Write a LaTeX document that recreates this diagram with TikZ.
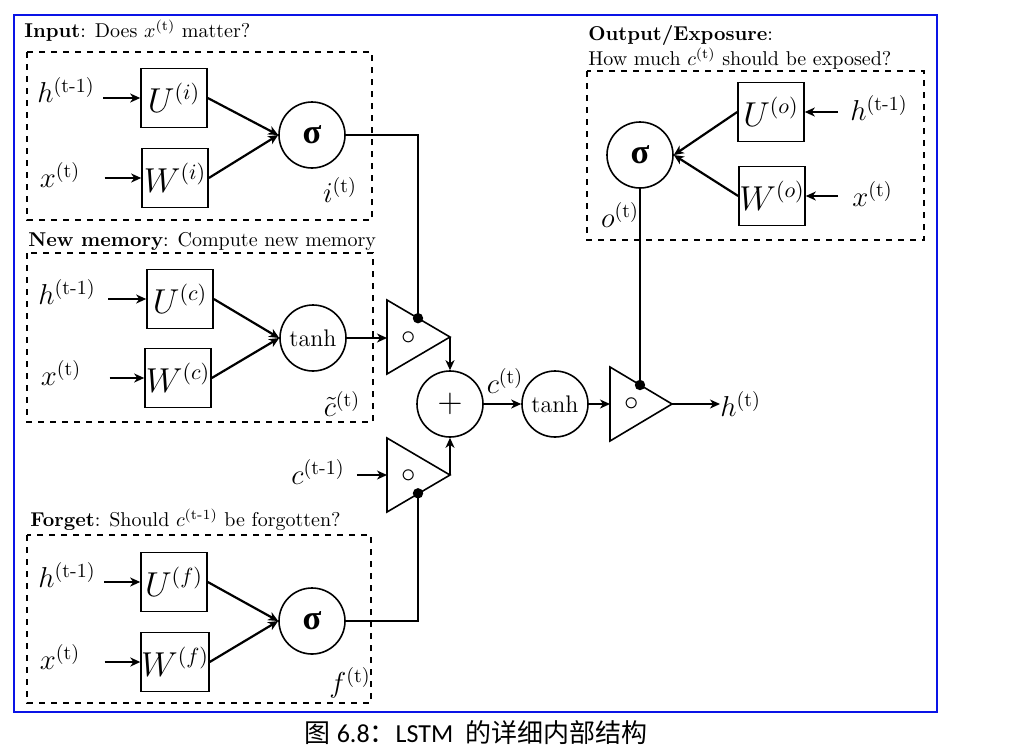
\documentclass[tikz,border=0pt]{standalone}
\usepackage{amsmath}
\usepackage{fontspec}
\newfontfamily\cjkfont{Noto Sans CJK SC}
\newfontfamily\capfont{Carlito}
\newfontfamily\sigfont{Liberation Serif}
\usetikzlibrary{arrows.meta, positioning, calc}
\definecolor{frameblue}{HTML}{0A14E6}

\newcommand{\sgm}{{\sigfont\bfseries σ}}

\tikzset{
    wbox/.style={draw, line width=0.8pt, minimum width=33pt, minimum height=29.5pt, inner sep=0pt, font=\fontsize{16}{18}\selectfont},
    actnode/.style={draw, circle, line width=0.8pt, minimum size=33pt, inner sep=0pt},
    lbl/.style={font=\Large, inner sep=0pt},
    gatebox/.style={draw, dashed, line width=0.7pt},
    hdr/.style={anchor=west, inner sep=0pt, font=\normalsize},
    flow/.style={line width=1.1pt, -{Stealth[length=5pt, width=4.5pt, inset=1.5pt]}},
    wire/.style={line width=1.1pt},
    gatetri/.style={draw, line width=0.8pt, line join=miter},
}

\begin{document}
\begin{tikzpicture}[x=0.5pt, y=-0.5pt]
    \useasboundingbox (0,0) rectangle (1009,752);
    \draw[frameblue, line width=1pt] (14,15) rectangle (937,712);

    % Input
    \node[hdr] (inhdr) at (24,31) {\textbf{Input}: Does $x^{(\text{t})}$ matter?};
    \draw[gatebox] (27,52) rectangle (372,220);
    \node[wbox] (ui) at (174,98) {$U^{(i)}$};
    \node[wbox] (wi) at (175,178) {$W^{(i)}$};
    \node[actnode, font=\LARGE] (si) at (312,135) {\sgm};
    \node[lbl] (hi) at (66,90) {$h^{(\text{t-1})}$};
    \node[lbl] (xi) at (60,175) {$x^{(\text{t})}$};
    \node[lbl] (it) at (340,190) {$i^{(\text{t})}$};
    \draw[flow, shorten <=4pt] (hi.east |- ui.west) -- (ui.west);
    \draw[flow, shorten <=12pt] (xi.east |- wi.west) -- (wi.west);
    \draw[flow] (ui.east) -- (si.west);
    \draw[flow] (wi.east) -- (si.west);

    % New memory
    \node[hdr] (nmhdr) at (28,241) {\textbf{New memory}: Compute new memory};
    \draw[gatebox] (27,253) rectangle (373,422);
    \node[wbox] (uc) at (180,299) {$U^{(c)}$};
    \node[wbox] (wc) at (178,378) {$W^{(c)}$};
    \node[actnode, font=\large] (tc) at (313,338) {tanh};
    \node[lbl] (hc) at (67,292) {$h^{(\text{t-1})}$};
    \node[lbl] (xc) at (61,373) {$x^{(\text{t})}$};
    \node[lbl] (ct) at (342,404) {$\tilde{c}^{(\text{t})}$};
    \draw[flow, shorten <=6pt] (hc.east |- uc.west) -- (uc.west);
    \draw[flow, shorten <=14pt] (xc.east |- wc.west) -- (wc.west);
    \draw[flow] (uc.east) -- (tc.west);
    \draw[flow] (wc.east) -- (tc.west);

    % Forget
    \node[hdr] (fghdr) at (30,520) {\textbf{Forget}: Should $c^{(\text{t-1})}$ be forgotten?};
    \draw[gatebox] (27,535) rectangle (371,703);
    \node[wbox] (uf) at (174,582) {$U^{(f)}$};
    \node[wbox] (wf) at (175,662) {$W^{(f)}$};
    \node[actnode, font=\LARGE] (sf) at (312,621) {\sgm};
    \node[lbl] (hf) at (67,575) {$h^{(\text{t-1})}$};
    \node[lbl] (xf) at (60,657) {$x^{(\text{t})}$};
    \node[lbl] (ft) at (350,683) {$f^{(\text{t})}$};
    \draw[flow, shorten <=4pt] (hf.east |- uf.west) -- (uf.west);
    \draw[flow, shorten <=12pt] (xf.east |- wf.west) -- (wf.west);
    \draw[flow] (uf.east) -- (sf.west);
    \draw[flow] (wf.east) -- (sf.west);

    % Output / Exposure
    \node[hdr] (ouhdr) at (588,35) {\textbf{Output/Exposure}:};
    \node[hdr] (ouhdr2) at (588,59) {How much $c^{(\text{t})}$ should be exposed?};
    \draw[gatebox] (587,71) rectangle (924,240);
    \node[wbox] (uo) at (771,112) {$U^{(o)}$};
    \node[wbox] (wo) at (772,196) {$W^{(o)}$};
    \node[actnode, font=\LARGE] (so) at (640,155) {\sgm};
    \node[lbl, anchor=west] (ho) at (850,108) {$h^{(\text{t-1})}$};
    \node[lbl, anchor=west] (xo) at (852,194) {$x^{(\text{t})}$};
    \node[lbl] (ot) at (620,215) {$o^{(\text{t})}$};
    \draw[flow, shorten <=6pt] (ho.west |- uo.east) -- (uo.east);
    \draw[flow, shorten <=7pt] (xo.west |- wo.east) -- (wo.east);
    \draw[flow] (uo.west) -- (so.east);
    \draw[flow] (wo.west) -- (so.east);

    % gates
    \coordinate (g1) at (387,337);
    \coordinate (g2) at (387,475);
    \coordinate (g3) at (610,404);
    \draw[gatetri] (g1) ++(0,-37) -- ++(63,37) coordinate (g1o) -- ++(-63,37) -- cycle;
    \draw[gatetri] (g2) ++(0,-37) -- ++(63,37) coordinate (g2o) -- ++(-63,37) -- cycle;
    \draw[gatetri] (g3) ++(0,-37) -- ++(62,37) coordinate (g3o) -- ++(-62,37) -- cycle;
    \node[font=\Large, inner sep=0pt] (m1) at (409,338) {$\circ$};
    \node[font=\Large, inner sep=0pt] (m2) at (409,476) {$\circ$};
    \node[font=\Large, inner sep=0pt] (m3) at (632,404) {$\circ$};
    \coordinate (d1) at (418,318.2);
    \coordinate (d2) at (418,493.3);
    \coordinate (d3) at (640,385);

    % cell
    \node[actnode, font=\LARGE] (plus) at (450,404) {$+$};
    \node[actnode, font=\large] (tcell) at (555,404) {tanh};
    \node[lbl] (cnow) at (505,381) {$c^{(\text{t})}$};
    \node[lbl] (cprev) at (318,472) {$c^{(\text{t-1})}$};
    \node[lbl, anchor=west] (hout) at (720,404) {$h^{(\text{t})}$};

    % connectors
    \draw[wire] (si.east) -| (d1);
    \draw[wire] (sf.east) -| (d2);
    \draw[wire] (so.south) -- (d3);
    \fill (d1) circle (2.6pt);
    \fill (d2) circle (2.6pt);
    \fill (d3) circle (2.6pt);
    \draw[flow] (tc.east) -- (tc.east -| g1);
    \draw[flow, shorten <=6pt] (cprev.east |- g2) -- (g2);
    \draw[flow] (g1o) -- (plus.north);
    \draw[flow] (g2o) -- (plus.south);
    \draw[flow] (plus.east) -- (tcell.west);
    \draw[flow] (tcell.east) -- (g3);
    \draw[flow] (g3o) -- (hout.west);

    % caption
    \node[font=\fontsize{13}{15}\selectfont] (cap) at (476,733) {\cjkfont 图 \capfont 6.8\cjkfont ：\capfont LSTM\ \ \cjkfont 的详细内部结构};
\end{tikzpicture}
\end{document}
